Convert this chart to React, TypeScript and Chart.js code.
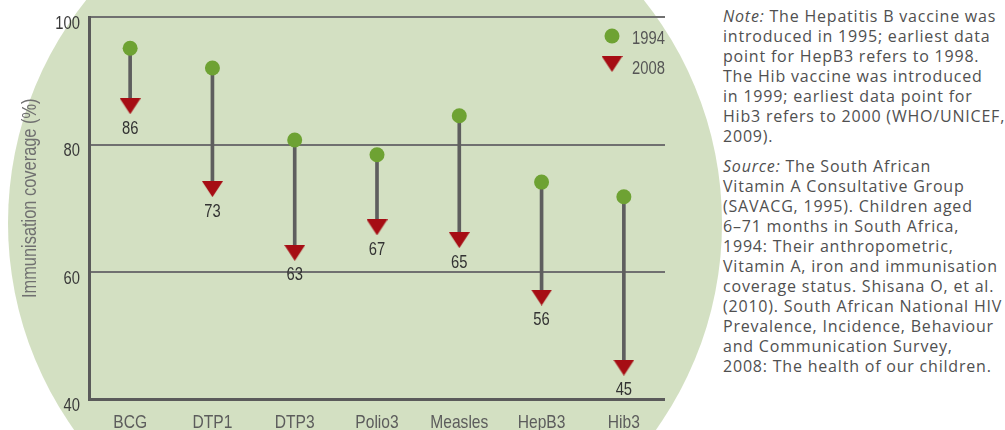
import React, { useEffect, useRef } from "react";
import { Chart, registerables } from "chart.js";

Chart.register(...registerables);

// ---- data ----
const categories = ["BCG", "DTP1", "DTP3", "Polio3", "Measles", "HepB3", "Hib3"];
const coverage1994 = [95.1, 92.0, 80.7, 78.4, 84.5, 74.1, 71.8];
const coverage2008 = [86, 73, 63, 67, 65, 56, 45];
const yTickValues = [40, 60, 80, 100];
const seriesNames = ["1994", "2008"];
const yAxisTitle = "Immunisation coverage (%)";

const noteLines = [
  " The Hepatitis B vaccine was",
  "introduced in 1995; earliest data",
  "point for HepB3 refers to 1998.",
  "The Hib vaccine was introduced",
  "in 1999; earliest data point for",
  "Hib3 refers to 2000 (WHO/UNICEF,",
  "2009).",
];
const sourceLines = [
  " The South African",
  "Vitamin A Consultative Group",
  "(SAVACG, 1995). Children aged",
  "6–71 months in South Africa,",
  "1994: Their anthropometric,",
  "Vitamin A, iron and immunisation",
  "coverage status. Shisana O, et al.",
  "(2010). South African National HIV",
  "Prevalence, Incidence, Behaviour",
  "and Communication Survey,",
  "2008: The health of our children.",
];

// ---- styles ----
const GREEN = "#6ea233";
const RED = "#a60d14";
const STEM = "#5e5e5e";
const BG = "#d3e0c2";
const SANS = "'Liberation Sans', Arial, sans-serif";
const NARROW_X = 0.82;

function makeTriangle(): HTMLCanvasElement {
  const c = document.createElement("canvas");
  c.width = 21;
  c.height = 16;
  const g = c.getContext("2d")!;
  g.fillStyle = RED;
  g.beginPath();
  g.moveTo(0, 0);
  g.lineTo(21, 0);
  g.lineTo(10.5, 16);
  g.closePath();
  g.fill();
  return c;
}

function narrowText(
  ctx: CanvasRenderingContext2D,
  text: string,
  x: number,
  y: number,
  size: number,
  color: string,
  align: CanvasTextAlign,
  baseline: CanvasTextBaseline,
  rotate = 0
) {
  ctx.save();
  ctx.translate(x, y);
  if (rotate) ctx.rotate(rotate);
  ctx.scale(NARROW_X, 1);
  ctx.font = `${size}px ${SANS}`;
  ctx.fillStyle = color;
  ctx.textAlign = align;
  ctx.textBaseline = baseline;
  ctx.fillText(text, 0, 0);
  ctx.restore();
}

export default function App() {
  const ref = useRef<HTMLCanvasElement | null>(null);

  useEffect(() => {
    const canvas = ref.current;
    if (!canvas) return;
    const tri = makeTriangle();

    const overlay = {
      id: "overlay",
      afterDraw(chart: any) {
        const { ctx, chartArea, scales } = chart;
        // value labels under the 2008 markers
        const meta = chart.getDatasetMeta(2);
        meta.data.forEach((el: any, i: number) => {
          narrowText(ctx, String(coverage2008[i]), el.x, el.y + 27.5, 18, "#333333", "center", "alphabetic");
        });
        // y tick labels
        yTickValues.forEach((v) => {
          const y = scales.y.getPixelForValue(v);
          narrowText(ctx, String(v), chartArea.left - 9, y + 11.5, 18, "#3a3a3a", "right", "alphabetic");
        });
        // x tick labels
        categories.forEach((c, i) => {
          const x = scales.x.getPixelForValue(i);
          narrowText(ctx, c, x, chartArea.bottom + 28.5, 19, "#5c5c5c", "center", "alphabetic");
        });
        // legend
        const lx = chartArea.right - 53;
        ctx.save();
        ctx.fillStyle = GREEN;
        ctx.beginPath();
        ctx.arc(lx, chartArea.top + 19, 7.5, 0, Math.PI * 2);
        ctx.fill();
        ctx.drawImage(tri, lx - tri.width / 2, chartArea.top + 47 - tri.height / 2);
        ctx.restore();
        narrowText(ctx, seriesNames[0], lx + 20, chartArea.top + 26.5, 18, "#555555", "left", "alphabetic");
        narrowText(ctx, seriesNames[1], lx + 20, chartArea.top + 56.5, 18, "#555555", "left", "alphabetic");
        // y axis title
        narrowText(
          ctx,
          yAxisTitle,
          30,
          (chartArea.top + chartArea.bottom) / 2 - 10,
          20,
          "#707070",
          "center",
          "middle",
          -Math.PI / 2
        );
      },
    };

    const chart = new Chart(canvas, {
      type: "bar",
      data: {
        labels: categories,
        datasets: [
          {
            type: "bar",
            label: "stem",
            data: categories.map((_, i) => [coverage2008[i], coverage1994[i]]) as any,
            backgroundColor: STEM,
            borderWidth: 0,
            barThickness: 3,
            order: 3,
          },
          {
            type: "line",
            label: seriesNames[0],
            data: coverage1994,
            showLine: false,
            pointRadius: 7.5,
            pointBackgroundColor: GREEN,
            pointBorderWidth: 0,
            order: 1,
          },
          {
            type: "line",
            label: seriesNames[1],
            data: coverage2008,
            showLine: false,
            pointStyle: tri as any,
            pointRadius: 10,
            pointBorderWidth: 0,
            order: 2,
          },
        ] as any,
      },
      options: {
        responsive: false,
        animation: false,
        events: [],
        layout: { padding: { left: 0, right: 35, top: 17, bottom: 0 } },
        plugins: { legend: { display: false }, tooltip: { enabled: false } },
        scales: {
          x: {
            type: "category",
            offset: true,
            grid: { display: false, drawTicks: false },
            border: { display: false },
            ticks: { display: false },
            afterFit: (s: any) => {
              s.height = 30.5;
            },
          },
          y: {
            min: 40,
            max: 100,
            afterBuildTicks: (s: any) => {
              s.ticks = yTickValues.map((v) => ({ value: v }));
            },
            grid: {
              drawTicks: false,
              color: (c: any) => (c.tick && c.tick.value === 40 ? "#5a5a5a" : "#707070"),
              lineWidth: (c: any) => (c.tick && c.tick.value === 40 ? 3 : 2),
            },
            border: { display: true, color: "#5a5a5a", width: 3 },
            ticks: { display: false },
            afterFit: (s: any) => {
              s.width = 89;
            },
          },
        },
      } as any,
      plugins: [overlay],
    });

    return () => chart.destroy();
  }, []);

  const textStyle: React.CSSProperties = {
    fontFamily: "'Open Sans', 'Liberation Sans', sans-serif",
    fontSize: 16,
    letterSpacing: "0.8px",
    lineHeight: "20px",
    color: "#505050",
    whiteSpace: "nowrap",
  };

  return (
    <div
      style={{
        position: "absolute",
        left: 0,
        top: 0,
        width: 1005,
        height: 430,
        overflow: "hidden",
        background: "#ffffff",
      }}
    >
      <div
        style={{
          position: "absolute",
          left: 8,
          top: -134,
          width: 714,
          height: 714,
          borderRadius: "50%",
          background: BG,
        }}
      />
      <canvas
        ref={ref}
        width={700}
        height={430}
        style={{ position: "absolute", left: 0, top: 0, width: 700, height: 430, display: "block" }}
      />
      <div style={{ position: "absolute", left: 723, top: 6, ...textStyle }}>
        {noteLines.map((l, i) => (
          <div key={"n" + i}>
            {i === 0 ? <i>Note:</i> : null}
            {l}
          </div>
        ))}
      </div>
      <div style={{ position: "absolute", left: 723, top: 156, ...textStyle }}>
        {sourceLines.map((l, i) => (
          <div key={"s" + i}>
            {i === 0 ? <i>Source:</i> : null}
            {l}
          </div>
        ))}
      </div>
    </div>
  );
}
